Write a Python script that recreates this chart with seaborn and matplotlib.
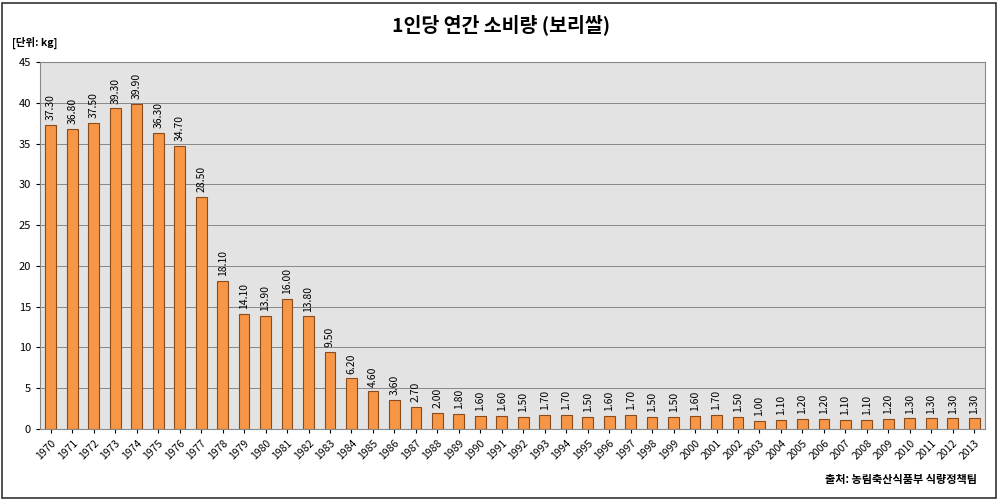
import matplotlib.pyplot as plt
import seaborn as sns
import pandas as pd

plt.rcParams["font.family"] = ["Noto Sans CJK JP", "Noto Sans CJK KR", "Noto Sans CJK SC", "DejaVu Sans"]

years = [str(y) for y in range(1970, 2014)]
values = [37.30, 36.80, 37.50, 39.30, 39.90, 36.30, 34.70, 28.50, 18.10, 14.10,
          13.90, 16.00, 13.80, 9.50, 6.20, 4.60, 3.60, 2.70, 2.00, 1.80,
          1.60, 1.60, 1.50, 1.70, 1.70, 1.50, 1.60, 1.70, 1.50, 1.50,
          1.60, 1.70, 1.50, 1.00, 1.10, 1.20, 1.20, 1.10, 1.10, 1.20,
          1.30, 1.30, 1.30, 1.30]
df = pd.DataFrame({"year": years, "value": values})

fig = plt.figure(figsize=(10.02, 5.0), dpi=100)
ax = fig.add_axes([0.040, 0.142, 0.943, 0.734])
ax.set_facecolor("#e3e3e3")
sns.barplot(data=df, x="year", y="value", color="#f79646", edgecolor="#8a4a1a",
            linewidth=0.8, width=0.5, saturation=1, ax=ax)
for i, v in enumerate(values):
    ax.text(i, v + 0.6, f"{v:.2f}", rotation=90, ha="center", va="bottom", fontsize=7.5)

ax.set_ylim(0, 45)
ax.set_xlim(-0.5, len(years) - 0.5)
ax.set_yticks(range(0, 46, 5))
ax.yaxis.grid(True, color="#888888", linewidth=0.7)
ax.set_axisbelow(True)
ax.set_xlabel("")
ax.set_ylabel("")
ax.tick_params(axis="y", labelsize=8, length=3)
ax.tick_params(axis="x", labelsize=7.5, length=3, rotation=45)
for lbl in ax.get_xticklabels():
    lbl.set_ha("right")
    lbl.set_rotation_mode("anchor")
for s in ax.spines.values():
    s.set_color("#888888")

fig.text(0.5, 0.95, "1인당 연간 소비량 (보리쌀)", ha="center", va="center",
         fontsize=14, fontweight="bold")
fig.text(0.012, 0.915, "[단위: kg]", ha="left", va="center", fontsize=7.5, fontweight="bold")
fig.text(0.975, 0.04, "출처: 농림축산식품부 식량정책팀", ha="right", va="center",
         fontsize=8, fontweight="bold")
fig.patches.append(plt.Rectangle((0.002, 0.004), 0.992, 0.99, transform=fig.transFigure,
                                 fill=False, edgecolor="#333333", linewidth=1.2))
fig.savefig("out.png", dpi=100)
